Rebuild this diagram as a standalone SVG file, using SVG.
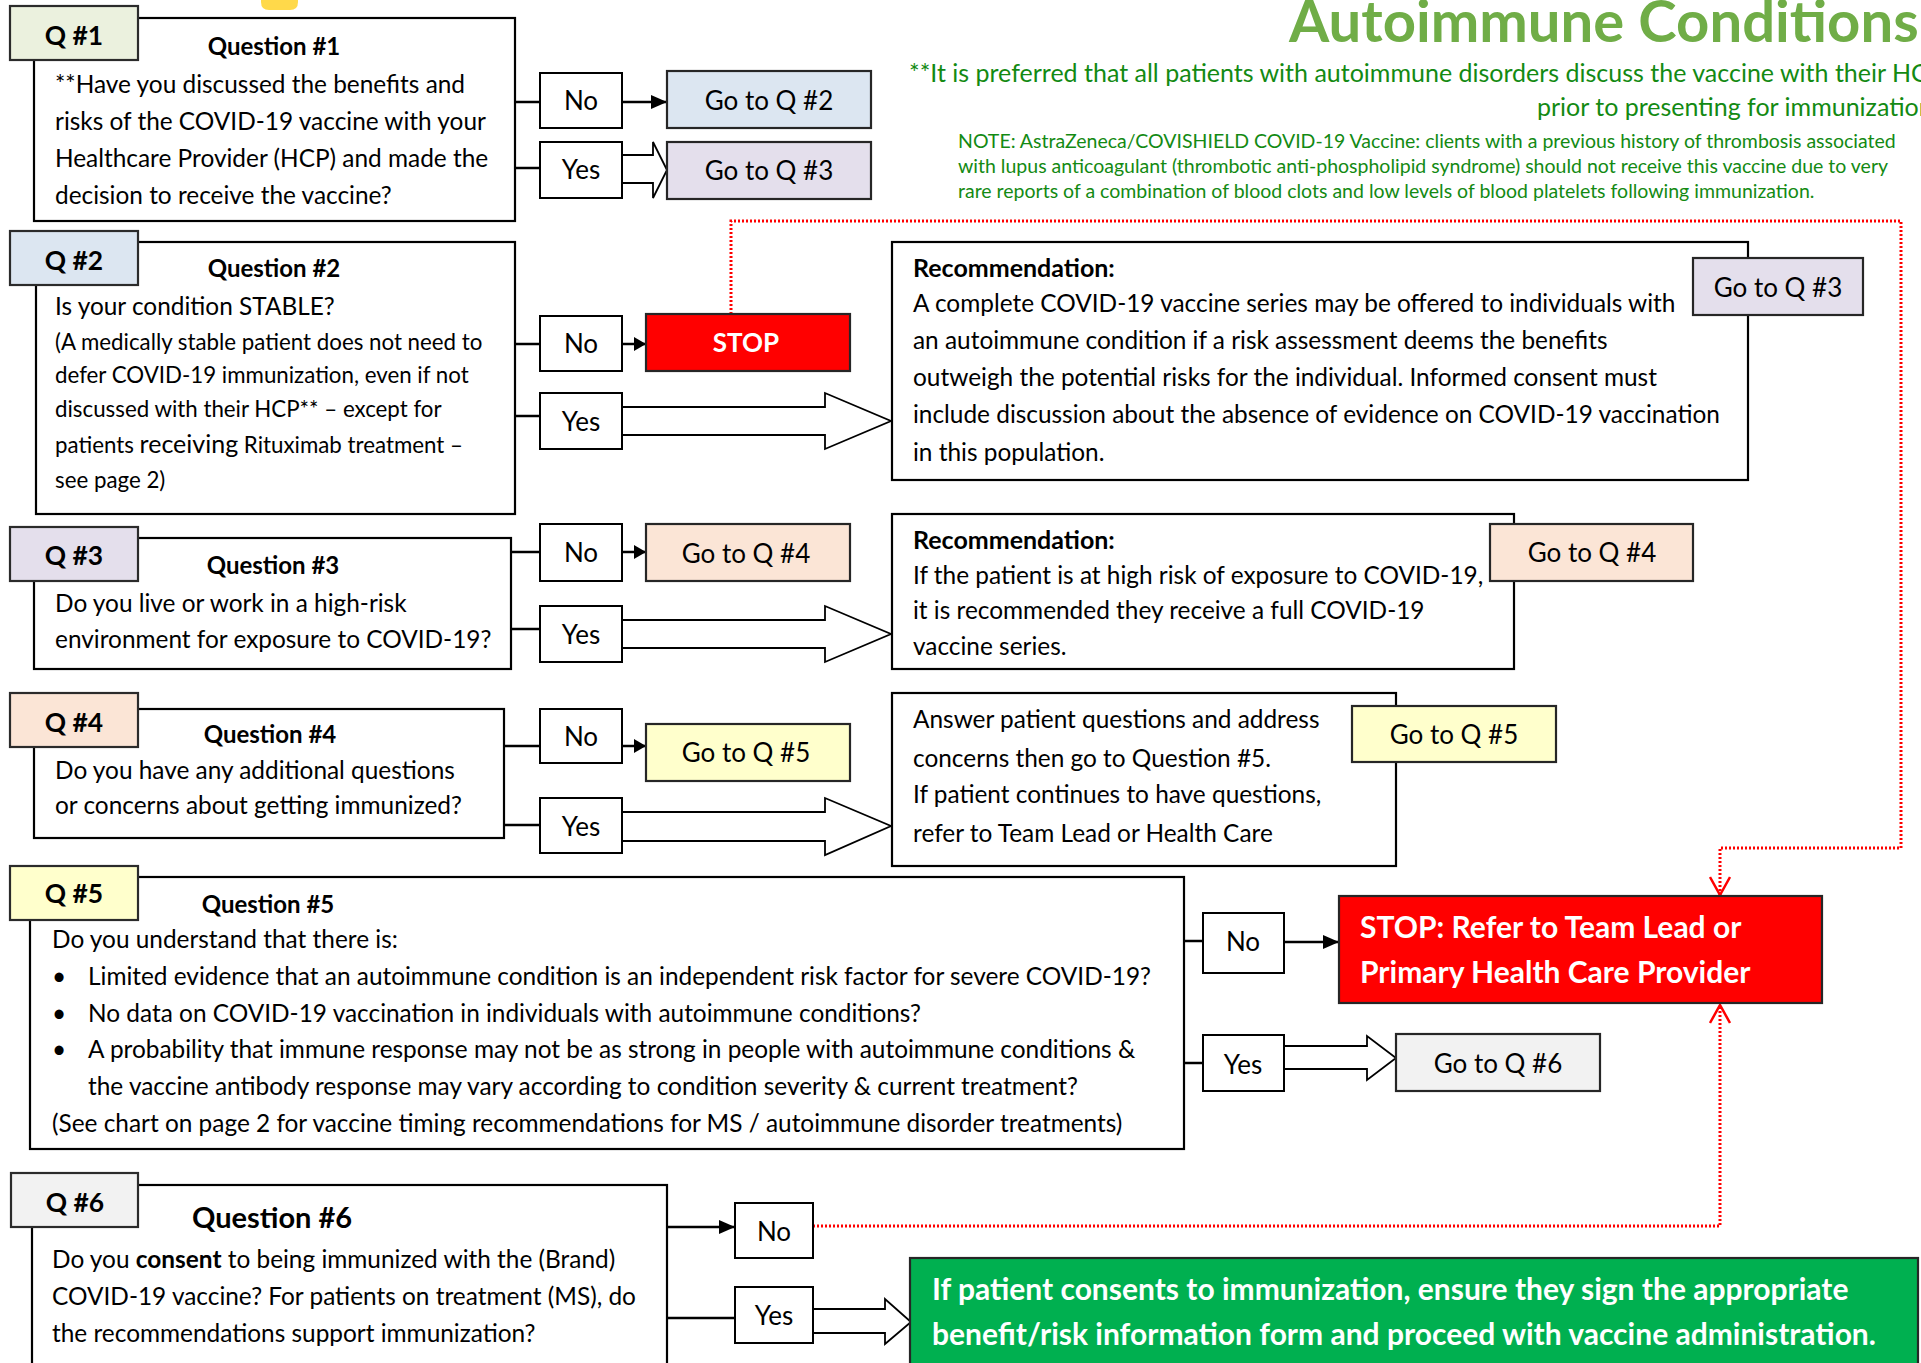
<svg xmlns="http://www.w3.org/2000/svg" width="1921" height="1363" viewBox="0 0 1921 1363">
<style>
text{font-family:Lato,"Liberation Sans",sans-serif;fill:#000}
.box{fill:#fff;stroke:#000;stroke-width:2.2}
.tab{stroke:#2b2b2b;stroke-width:2.2}
.yn{fill:#fff;stroke:#000;stroke-width:2}
.go{stroke:#262626;stroke-width:2.2}
.tl{font-size:26.4px;font-weight:bold;text-anchor:middle}
.qh{font-size:24px;font-weight:bold;text-anchor:middle}
.rh{font-size:25px;font-weight:bold}
.b{font-size:24.4px}
.s{font-size:22.3px}
.c{font-size:26px;text-anchor:middle}
.gt{font-size:26px;text-anchor:middle}
.w{fill:#fff;font-weight:bold}
.g{fill:#138a13}
.ln{stroke:#000;stroke-width:2.5;fill:none}
.blk{fill:#fff;stroke:#000;stroke-width:1.8}
.red{stroke:#ff0000;stroke-width:3;stroke-dasharray:2 2;fill:none}
</style>
<defs>
<marker id="ah" markerUnits="userSpaceOnUse" markerWidth="16" markerHeight="14" refX="16" refY="7" orient="auto"><path d="M0,0 L16,7 L0,14 z" fill="#000"/></marker>
<marker id="ahs" markerUnits="userSpaceOnUse" markerWidth="12" markerHeight="14" refX="12" refY="7" orient="auto"><path d="M0,0 L12,7 L0,14 z" fill="#000"/></marker>
<marker id="rv" markerUnits="userSpaceOnUse" markerWidth="22" markerHeight="22" refX="20" refY="11" orient="auto"><path d="M2,1 L20,11 L2,21" fill="none" stroke="#ff0000" stroke-width="2.5"/></marker>
</defs>

<g id="header">
<path d="M261,-20 H298 V2 Q298,10 290,10 H269 Q261,10 261,2 Z" fill="#ffd94a"/>
<text x="1289" y="42" style="font-size:58px;font-weight:bold;fill:#70ad47">Autoimmune Conditions</text>
<text class="g" x="909" y="82" style="font-size:25px">**It is preferred that all patients with autoimmune disorders discuss the vaccine with their HCP</text>
<text class="g" x="1537" y="116" style="font-size:25px">prior to presenting for immunization</text>
<text class="g" x="958" y="148" style="font-size:19.5px">NOTE:  AstraZeneca/COVISHIELD COVID-19 Vaccine: clients with a previous history of thrombosis associated</text>
<text class="g" x="958" y="173" style="font-size:19.5px">with lupus anticoagulant (thrombotic anti-phospholipid syndrome) should not receive this vaccine due to very</text>
<text class="g" x="958" y="198" style="font-size:19.5px">rare reports of a combination of blood clots and low levels of blood platelets following immunization.</text>
</g>

<g id="connectors">
<line class="ln" x1="515" y1="102" x2="540" y2="102"/>
<line class="ln" x1="515" y1="168" x2="540" y2="168"/>
<line class="ln" x1="622" y1="102" x2="667" y2="102" marker-end="url(#ah)"/>
<polygon class="blk" points="622,155 653,155 653,142 667,170 653,198 653,183 622,183"/>
<line class="ln" x1="515" y1="344" x2="540" y2="344"/>
<line class="ln" x1="515" y1="416" x2="540" y2="416"/>
<line class="ln" x1="622" y1="344" x2="646" y2="344" marker-end="url(#ahs)"/>
<polygon class="blk" points="622,407 825,407 825,393 891,421 825,449 825,435 622,435"/>
<line class="ln" x1="511" y1="552" x2="540" y2="552"/>
<line class="ln" x1="511" y1="629" x2="540" y2="629"/>
<line class="ln" x1="622" y1="552" x2="646" y2="552" marker-end="url(#ahs)"/>
<polygon class="blk" points="622,620 825,620 825,606 891,634 825,662 825,648 622,648"/>
<line class="ln" x1="504" y1="746" x2="540" y2="746"/>
<line class="ln" x1="504" y1="825" x2="540" y2="825"/>
<line class="ln" x1="622" y1="746" x2="646" y2="746" marker-end="url(#ahs)"/>
<polygon class="blk" points="622,812 825,812 825,798 891,826 825,855 825,841 622,841"/>
<line class="ln" x1="1184" y1="941" x2="1203" y2="941"/>
<line class="ln" x1="1184" y1="1063" x2="1203" y2="1063"/>
<line class="ln" x1="1284" y1="942" x2="1339" y2="942" marker-end="url(#ah)"/>
<polygon class="blk" points="1284,1046 1367,1046 1367,1036 1396,1058 1367,1080 1367,1069 1284,1069"/>
<line class="ln" x1="667" y1="1227" x2="735" y2="1227" marker-end="url(#ah)"/>
<line class="ln" x1="667" y1="1318" x2="735" y2="1318"/>
<polygon class="blk" points="813,1309 885,1309 885,1299 911,1322 885,1344 885,1333 813,1333"/>
<path class="red" d="M731,314 V221 H1901 V848 H1720 V895" marker-end="url(#rv)"/>
<path class="red" d="M813,1226 H1720 V1005" marker-end="url(#rv)"/>
</g>

<g id="q1">
<rect class="box" x="34" y="18" width="481" height="203"/>
<rect class="tab" x="10" y="6" width="128" height="54" fill="#ebf1de"/>
<text class="tl" x="74" y="45">Q #1</text>
<text class="qh" x="274" y="55">Question #1</text>
<text class="b" x="55" y="93">**Have you discussed the benefits and</text>
<text class="b" x="55" y="130">risks of the COVID-19 vaccine with your</text>
<text class="b" x="55" y="167">Healthcare Provider (HCP) and made the</text>
<text class="b" x="55" y="204">decision to receive the vaccine?</text>
</g>
<g id="q1-no"><rect class="yn" x="540" y="73" width="82" height="55"/><text class="c" x="581" y="110">No</text></g>
<g id="q1-yes"><rect class="yn" x="540" y="142" width="82" height="56"/><text class="c" x="581" y="179">Yes</text></g>
<g id="goto2"><rect class="go" x="667" y="71" width="204" height="57" fill="#dce6f1"/><text class="gt" x="769" y="110">Go to Q #2</text></g>
<g id="goto3a"><rect class="go" x="667" y="142" width="204" height="57" fill="#e4dfec"/><text class="gt" x="769" y="180">Go to Q #3</text></g>

<g id="q2">
<rect class="box" x="36" y="242" width="479" height="272"/>
<rect class="tab" x="10" y="231" width="128" height="54" fill="#dce6f1"/>
<text class="tl" x="74" y="270">Q #2</text>
<text class="qh" x="274" y="277">Question #2</text>
<text class="b" x="55" y="315">Is your condition STABLE?</text>
<text class="s" x="55" y="350">(A medically stable patient does not need to</text>
<text class="s" x="55" y="383">defer COVID-19 immunization, even if not</text>
<text class="s" x="55" y="417">discussed with their HCP** – except for</text>
<text class="s" x="55" y="453">patients <tspan style="font-size:25px">receiving</tspan> Rituximab treatment –</text>
<text class="s" x="55" y="488">see page 2)</text>
</g>
<g id="q2-no"><rect class="yn" x="540" y="316" width="82" height="55"/><text class="c" x="581" y="353">No</text></g>
<g id="q2-yes"><rect class="yn" x="540" y="393" width="82" height="56"/><text class="c" x="581" y="431">Yes</text></g>
<g id="stop1"><rect class="go" x="646" y="314" width="204" height="57" fill="#ff0000"/><text class="w" x="746" y="352" style="font-size:26px;text-anchor:middle">STOP</text></g>
<g id="rec1">
<rect class="box" x="892" y="242" width="856" height="238"/>
<text class="rh" x="913" y="277">Recommendation:</text>
<text class="b" x="913" y="312">A complete COVID-19 vaccine series may be offered to individuals with</text>
<text class="b" x="913" y="349">an autoimmune condition if a risk assessment deems the benefits</text>
<text class="b" x="913" y="386">outweigh the potential risks for the individual. Informed consent must</text>
<text class="b" x="913" y="423">include discussion about the absence of evidence on COVID-19 vaccination</text>
<text class="b" x="913" y="461">in this population.</text>
</g>
<g id="goto3b"><rect class="go" x="1693" y="258" width="170" height="57" fill="#e4dfec"/><text class="gt" x="1778" y="297">Go to Q #3</text></g>

<g id="q3">
<rect class="box" x="34" y="538" width="477" height="131"/>
<rect class="tab" x="10" y="527" width="128" height="54" fill="#e4dfec"/>
<text class="tl" x="74" y="565">Q #3</text>
<text class="qh" x="273" y="574">Question #3</text>
<text class="b" x="55" y="612">Do you live or work in a high-risk</text>
<text class="b" x="55" y="648">environment for exposure to COVID-19?</text>
</g>
<g id="q3-no"><rect class="yn" x="540" y="524" width="82" height="57"/><text class="c" x="581" y="562">No</text></g>
<g id="q3-yes"><rect class="yn" x="540" y="606" width="82" height="56"/><text class="c" x="581" y="644">Yes</text></g>
<g id="goto4a"><rect class="go" x="646" y="524" width="204" height="57" fill="#fbe5d6"/><text class="gt" x="746" y="563">Go to Q #4</text></g>
<g id="rec2">
<rect class="box" x="892" y="514" width="622" height="155"/>
<text class="rh" x="913" y="549">Recommendation:</text>
<text class="b" x="913" y="584">If the patient is at high risk of exposure to COVID-19,</text>
<text class="b" x="913" y="619">it is recommended they receive a full COVID-19</text>
<text class="b" x="913" y="655">vaccine series.</text>
</g>
<g id="goto4b"><rect class="go" x="1490" y="524" width="203" height="57" fill="#fbe5d6"/><text class="gt" x="1592" y="562">Go to Q #4</text></g>

<g id="q4">
<rect class="box" x="34" y="709" width="470" height="129"/>
<rect class="tab" x="10" y="693" width="128" height="54" fill="#fbe5d6"/>
<text class="tl" x="74" y="732">Q #4</text>
<text class="qh" x="270" y="743">Question #4</text>
<text class="b" x="55" y="779">Do you have any additional questions</text>
<text class="b" x="55" y="814">or concerns about getting immunized?</text>
</g>
<g id="q4-no"><rect class="yn" x="540" y="709" width="82" height="54"/><text class="c" x="581" y="746">No</text></g>
<g id="q4-yes"><rect class="yn" x="540" y="798" width="82" height="55"/><text class="c" x="581" y="836">Yes</text></g>
<g id="goto5a"><rect class="go" x="646" y="724" width="204" height="57" fill="#ffffcc"/><text class="gt" x="746" y="762">Go to Q #5</text></g>
<g id="ans">
<rect class="box" x="892" y="693" width="504" height="173"/>
<text class="b" x="913" y="728">Answer patient questions and address</text>
<text class="b" x="913" y="767">concerns then go to Question #5.</text>
<text class="b" x="913" y="803">If patient continues to have questions,</text>
<text class="b" x="913" y="842">refer to Team Lead or Health Care</text>
</g>
<g id="goto5b"><rect class="go" x="1352" y="706" width="204" height="56" fill="#ffffcc"/><text class="gt" x="1454" y="744">Go to Q #5</text></g>

<g id="q5">
<rect class="box" x="30" y="877" width="1154" height="272"/>
<rect class="tab" x="10" y="866" width="128" height="54" fill="#ffffcc"/>
<text class="tl" x="74" y="903">Q #5</text>
<text class="qh" x="268" y="913">Question #5</text>
<text class="b" x="52" y="948">Do you understand that there is:</text>
<text class="b" x="52" y="985">•</text>
<text class="b" x="88" y="985">Limited evidence that an autoimmune condition is an independent risk factor for severe COVID-19?</text>
<text class="b" x="52" y="1022">•</text>
<text class="b" x="88" y="1022">No data on COVID-19 vaccination in individuals with autoimmune conditions?</text>
<text class="b" x="52" y="1058">•</text>
<text class="b" x="88" y="1058">A probability that immune response may not be as strong in people with autoimmune conditions &amp;</text>
<text class="b" x="88" y="1095">the vaccine antibody response may vary according to condition severity &amp; current treatment?</text>
<text class="b" x="52" y="1132">(See chart on page 2 for vaccine timing recommendations for MS / autoimmune disorder treatments)</text>
</g>
<g id="q5-no"><rect class="yn" x="1203" y="913" width="81" height="60"/><text class="c" x="1243" y="951">No</text></g>
<g id="q5-yes"><rect class="yn" x="1203" y="1035" width="81" height="56"/><text class="c" x="1243" y="1074">Yes</text></g>
<g id="stop2">
<rect class="go" x="1339" y="896" width="483" height="107" fill="#ff0000"/>
<text class="w" x="1360" y="938" style="font-size:30px">STOP: Refer to Team Lead or</text>
<text class="w" x="1360" y="983" style="font-size:30px">Primary Health Care Provider</text>
</g>
<g id="goto6"><rect class="go" x="1396" y="1034" width="204" height="57" fill="#f2f2f2"/><text class="gt" x="1498" y="1073">Go to Q #6</text></g>

<g id="q6">
<rect class="box" x="32" y="1185" width="635" height="200"/>
<rect class="tab" x="11" y="1173" width="127" height="54" fill="#f2f2f2"/>
<text class="tl" x="75" y="1212">Q #6</text>
<text x="272" y="1228" style="font-size:29px;font-weight:bold;text-anchor:middle">Question #6</text>
<text class="b" x="52" y="1268">Do you <tspan font-weight="bold">consent</tspan> to being immunized with the (Brand)</text>
<text class="b" x="52" y="1305">COVID-19 vaccine? For patients on treatment (MS), do</text>
<text class="b" x="52" y="1342">the recommendations support immunization?</text>
</g>
<g id="q6-no"><rect class="yn" x="735" y="1203" width="78" height="55"/><text class="c" x="774" y="1241">No</text></g>
<g id="q6-yes"><rect class="yn" x="735" y="1287" width="78" height="56"/><text class="c" x="774" y="1325">Yes</text></g>
<g id="proceed">
<rect class="go" x="910" y="1258" width="1008" height="130" fill="#00b050"/>
<text class="w" x="932" y="1300" style="font-size:30px">If patient consents to immunization, ensure they sign the appropriate</text>
<text class="w" x="932" y="1345" style="font-size:30px">benefit/risk information form and proceed with vaccine administration.</text>
</g>
</svg>
